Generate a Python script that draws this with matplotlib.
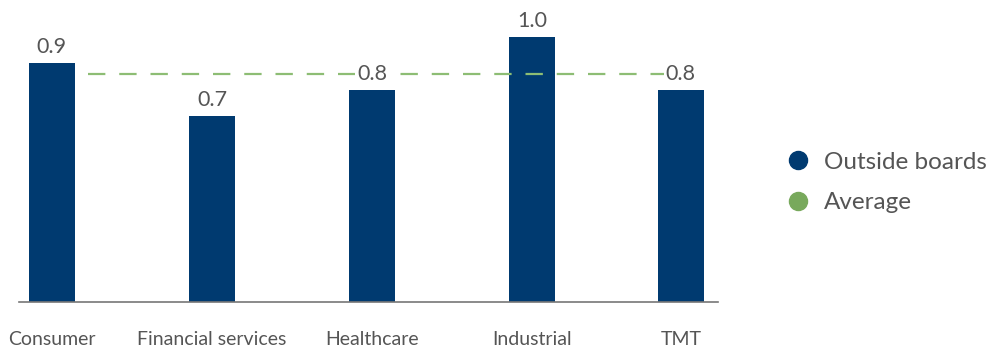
import matplotlib.pyplot as plt
from matplotlib.lines import Line2D

plt.rcParams['font.family'] = ['Lato', 'DejaVu Sans']
plt.rcParams['lines.scale_dashes'] = False

sectors = ['Consumer', 'Financial services', 'Healthcare', 'Industrial', 'TMT']
outside_boards = [0.9, 0.7, 0.8, 1.0, 0.8]
average = 0.86

# slot positions along the axis (last slot sits a little closer)
xpos = [0, 1, 2, 3, 3.93]

navy = '#003a70'
green = '#8dbd74'
green_dot = '#78a95c'
grey = '#555555'

fig = plt.figure(figsize=(10.03, 3.51), dpi=100)
ax = fig.add_axes([0.0189, 0.1396, 0.697, 0.832])

ax.bar(xpos, outside_boards, width=0.2875, color=navy, zorder=2)
ax.hlines(average, 0.225, xpos[-1], colors=green, linewidth=1.6,
          linestyles=(0, (12.5, 10)), zorder=3)

for x, v in zip(xpos, outside_boards):
    ax.text(x, v + 0.06, f'{v:.1f}', ha='center', va='center', fontsize=15.5,
            color=grey, zorder=4,
            bbox=dict(facecolor='white', edgecolor='none', pad=1.5))

ax.set_xlim(-0.206, 4.1625)
ax.set_ylim(0, 1.1)
ax.set_xticks(xpos)
ax.set_xticklabels(sectors, fontsize=14, color=grey)
ax.tick_params(axis='x', length=0, pad=21)
ax.set_yticks([])
for side in ['top', 'right', 'left']:
    ax.spines[side].set_visible(False)
ax.spines['bottom'].set_color('#777777')
ax.spines['bottom'].set_linewidth(1.2)

handles = [
    Line2D([], [], marker='o', linestyle='none', markersize=13,
           markerfacecolor=navy, markeredgecolor=navy, label='Outside boards'),
    Line2D([], [], marker='o', linestyle='none', markersize=13,
           markerfacecolor=green_dot, markeredgecolor=green_dot, label='Average'),
]
leg = fig.legend(handles=handles, loc='center left', bbox_to_anchor=(0.762, 0.48),
                 frameon=False, fontsize=17.5, handletextpad=0.55, labelspacing=0.8,
                 handlelength=1.0)
for t in leg.get_texts():
    t.set_color(grey)

fig.savefig('out.png', dpi=100)
